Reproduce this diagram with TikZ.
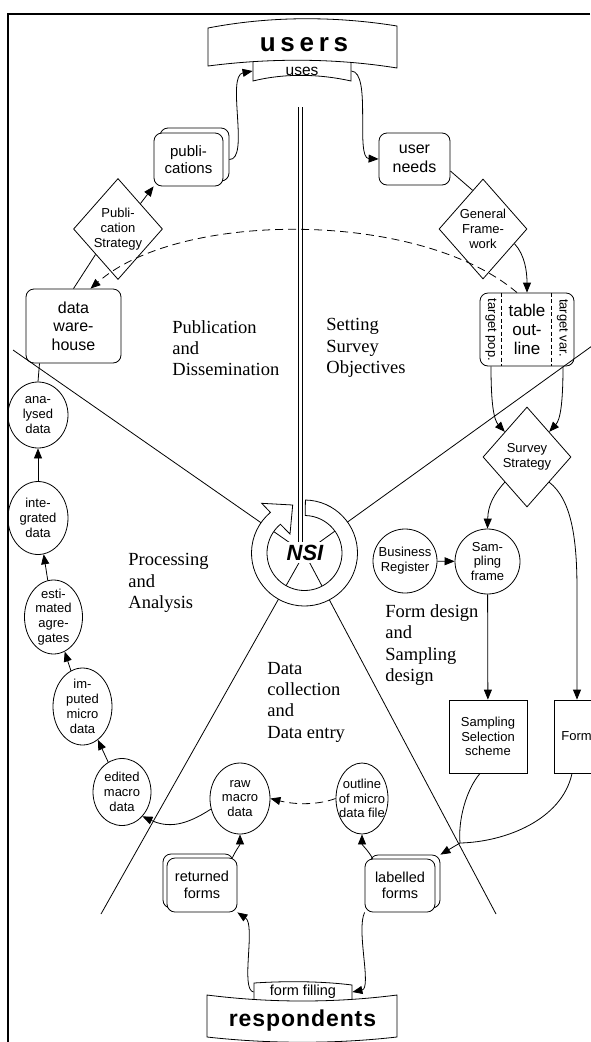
\documentclass[tikz,border=0pt]{standalone}
\usepackage{fontspec}
\setmainfont{Liberation Serif}
\setsansfont{Liberation Sans}
\newfontfamily\bannerfont[LetterSpace=18]{Liberation Sans}
\newfontfamily\respfont[LetterSpace=4]{Liberation Sans}
\usetikzlibrary{shapes.geometric, arrows.meta, shadows, calc}

\newcommand{\lgtxt}{\sffamily\fontsize{16}{18.5}\selectfont}
\newcommand{\mdtxt}{\sffamily\fontsize{15}{17}\selectfont}
\newcommand{\smtxt}{\sffamily\fontsize{13}{14.8}\selectfont}
\newcommand{\sectortxt}{\rmfamily\fontsize{18.5}{21.3}\selectfont}

\tikzset{
    roundbox/.style={draw, rounded corners=8pt, align=center, inner sep=0pt, font=\lgtxt},
    stackbox/.style={roundbox, fill=white, font=\mdtxt},
    dmd/.style={draw, diamond, align=center, inner sep=-3pt, font=\smtxt},
    blob/.style={draw, ellipse, align=center, inner sep=-6pt, font=\smtxt},
    disc/.style={draw, circle, align=center, inner sep=0pt, font=\smtxt},
    sqbox/.style={draw, rectangle, align=center, inner sep=0pt, font=\smtxt},
    sector/.style={anchor=west, align=left, inner sep=0pt, font=\sectortxt},
    arr/.style={-{Triangle[length=10pt,width=8pt]}},
    dashline/.style={dash pattern=on 8pt off 5pt}
}

\begin{document}
\begin{tikzpicture}[x=1pt, y=-1pt, thick]
        \useasboundingbox (0,0) rectangle (590,1042);

        % Draw the frame
        \draw[line width=2.2pt] (590,14) -- (8,14) -- (8,1042);

        % Draw the four sector lines round the NSI hub
        \coordinate (hub) at (304.5,553);
        \foreach \p in {(13,350),(592,346),(101,914),(496,914)} {
            \draw (hub) -- \p;
        }

        % Draw the NSI ring arrow and its label
        \draw[fill=white] ($(hub)+(-89:53)$) arc[start angle=-89, end angle=230, radius=53]
            -- (261.7,503.3) -- (292.7,505) -- (290,534)
            -- ($(hub)+(230:37.5)$) arc[start angle=230, end angle=-89, radius=37.5] -- cycle;
        \node[fill=white, inner sep=3pt, font=\sffamily\fontsize{22}{24}\selectfont\bfseries\itshape] (nsi) at (305,552.5) {NSI};
        \draw[double, double distance=3pt] (300.5,107) -- (300.5,542);

        % Draw the users banner with its tab
        \draw[fill=white] (253,55) -- (253,81) .. controls (285,73) and (320,74) .. (351,81) -- (351,55);
        \draw[fill=white] (208,28) .. controls (270,16) and (335,16) .. (397,26) -- (397,68)
            .. controls (335,58) and (270,58) .. (208,66) -- cycle;
        \node[font=\bannerfont\fontsize{26}{28}\selectfont\bfseries] (users) at (304,45) {users};
        \node[minimum width=98pt, minimum height=20pt, inner sep=0pt, font=\sffamily\fontsize{15.5}{17}\selectfont] (uses) at (302,71) {uses};

        % Draw the respondents banner with its tab
        \draw[fill=white] (254,1003) -- (254,983) .. controls (285,981) and (320,981) .. (352,985) -- (352,1003);
        \draw[fill=white] (207,995) .. controls (270,1003) and (335,1003) .. (397,995) -- (397,1037)
            .. controls (335,1044) and (270,1044) .. (207,1037) -- cycle;
        \node[font=\respfont\fontsize{23}{25}\selectfont\bfseries] (respond) at (302.5,1021) {respondents};
        \node[minimum width=98pt, minimum height=18pt, inner sep=0pt, font=\sffamily\fontsize{14.5}{16}\selectfont] (filling) at (303,992) {form filling};

        % Add the sector labels
        \node[sector] (pubdis) at (172,348) {Publication\\and\\Dissemination};
        \node[sector] (setobj) at (326,348) {Setting\\Survey\\Objectives};
        \node[sector] (procana) at (128,583) {Processing\\and\\Analysis};
        \node[sector] (datacol) at (267,702) {Data\\collection\\and\\Data entry};
        \node[sector] (formdes) at (385,645) {Form design\\and\\Sampling\\design};

        % Add the boxes
        \node[stackbox, copy shadow={shadow xshift=6pt, shadow yshift=5pt, fill=white, draw=black}, minimum width=69pt, minimum height=53pt] (pubs) at (188.5,159.5) {publi-\\cations};
        \node[roundbox, minimum width=71pt, minimum height=52pt] (needs) at (414.5,159) {user\\needs};
        \node[roundbox, minimum width=95pt, minimum height=74pt] (dw) at (73.5,326) {data\\ware-\\house};
        \node[roundbox, minimum width=94pt, minimum height=73pt, font=\sffamily\fontsize{17}{19}\selectfont] (table) at (527,329.5) {table\\out-\\line};
        \draw[dash pattern=on 4pt off 2.5pt] ([xshift=22pt]table.north west) -- ([xshift=22pt]table.south west);
        \draw[dash pattern=on 4pt off 2.5pt] ([xshift=-23pt]table.north east) -- ([xshift=-23pt]table.south east);
        \node[rotate=-90, font=\smtxt] (tpop) at (491,330) {target pop.};
        \node[rotate=-90, font=\smtxt] (tvar) at (562.5,328) {target var.};
        \node[stackbox, copy shadow={shadow xshift=-4pt, shadow yshift=4pt, fill=white, draw=black}, font=\sffamily\fontsize{14.5}{16.5}\selectfont, minimum width=70pt, minimum height=54pt] (ret) at (202,885) {returned\\forms};
        \node[stackbox, copy shadow={shadow xshift=5pt, shadow yshift=4pt, fill=white, draw=black}, font=\sffamily\fontsize{14.5}{16.5}\selectfont, minimum width=70pt, minimum height=53pt] (lab) at (400,885.5) {labelled\\forms};

        % Add the diamonds
        \node[dmd, minimum width=89pt, minimum height=101pt] (pubstrat) at (118,229) {Publi-\\cation\\Strategy};
        \node[dmd, minimum width=88pt, minimum height=100pt] (genfw) at (483,229) {General\\Frame-\\work};
        \node[dmd, minimum width=88pt, minimum height=100pt] (survey) at (527,457) {Survey\\Strategy};

        % Add the circles and the square boxes
        \node[disc, minimum size=64pt] (bizreg) at (405,561) {Business\\Register};
        \node[disc, minimum size=65pt] (sframe) at (487.5,561.5) {Sam-\\pling\\frame};
        \node[sqbox, minimum width=78pt, minimum height=73pt] (sss) at (488,736.5) {Sampling\\Selection\\scheme};
        \node[sqbox, anchor=west, align=left, text width=64pt, inner xsep=7pt, minimum height=73pt] (form) at (554,736.5) {Form};

        % Add the ellipses
        \node[blob, minimum width=60pt, minimum height=66pt] (anal) at (38,415) {ana-\\lysed\\data};
        \node[blob, minimum width=60pt, minimum height=73pt] (integ) at (38,518) {inte-\\grated\\data};
        \node[blob, minimum width=58pt, minimum height=74pt] (estim) at (53.5,617) {esti-\\mated\\agre-\\gates};
        \node[blob, minimum width=59pt, minimum height=77pt] (imput) at (82.5,706.5) {im-\\puted\\micro\\data};
        \node[blob, minimum width=58pt, minimum height=67pt] (edited) at (122,792) {edited\\macro\\data};
        \node[blob, minimum width=60pt, minimum height=71pt] (raw) at (240,798.5) {raw\\macro\\data};
        \node[blob, minimum width=52pt, minimum height=71pt] (outline) at (362,798.5) {outline\\of micro\\data file};

        % Draw the connectors of the upper half
        \draw[arr] ([xshift=6pt]pubs.east) .. controls (250,160) and (226,76) .. (uses.west);
        \draw[arr] (uses.east) .. controls (372,72) and (355,158) .. (needs.west);
        \draw ([yshift=-12pt]needs.east) -- (genfw.105);
        \draw[arr] (genfw.-25) .. controls (525,255) and (527,272) .. (table.north);
        \draw[dashline, arr] ([xshift=-10pt]table.north) .. controls (420,210) and (180,210) .. ([xshift=17pt]dw.north);
        \draw (dw.north) -- (pubstrat.south west);
        \draw[arr] (pubstrat.north east) -- (pubs.south west);

        % Draw the connectors of the survey design
        \draw[arr] ([xshift=-36pt]table.south) .. controls (491,405) and (494,420) .. (survey.north west);
        \draw[arr] ([xshift=36pt]table.south) .. controls (563,405) and (560,420) .. (survey.north east);
        \draw[arr] (survey.south west) .. controls (494,494) and (488,505) .. (sframe.north);
        \draw[arr] (survey.south east) .. controls (572,500) and (577,540) .. (577,590) -- ([xshift=23pt]form.north west);
        \draw[arr] (bizreg) -- (sframe);
        \draw[arr] (sframe) -- (sss);
        \coordinate (merge) at (460,843);
        \draw ([xshift=-8pt]sss.south) .. controls (466,790) and (458,820) .. (merge);
        \draw ([xshift=18pt]form.south west) .. controls (562,820) and (505,842) .. (merge);
        \draw[arr] (merge) -- ([shift={(5pt,4pt)}]lab.north east);

        % Draw the connectors of the data chain
        \draw ([xshift=-34pt]dw.south) -- (anal.north);
        \draw[arr] (integ) -- (anal);
        \draw[arr] (estim) -- (integ);
        \draw[arr] (imput) -- (estim);
        \draw[arr] (edited) -- (imput);
        \draw[arr] (raw.200) .. controls (185,826) and (168,828) .. (edited.-50);
        \draw[dashline, arr] (outline.west) .. controls (315,806) and (292,804) .. (raw.east);
        \draw[arr] ([xshift=-5pt]ret.north east) .. controls (236,850) and (240,845) .. (raw.south);
        \draw[arr] ([xshift=8pt]lab.north west) .. controls (368,850) and (362,845) .. (outline.south);
        \draw[arr] (filling.west) .. controls (240,990) and (256,925) .. (ret.south east);
        \draw[arr] (lab.south west) .. controls (356,930) and (372,988) .. (filling.east);
\end{tikzpicture}
\end{document}
